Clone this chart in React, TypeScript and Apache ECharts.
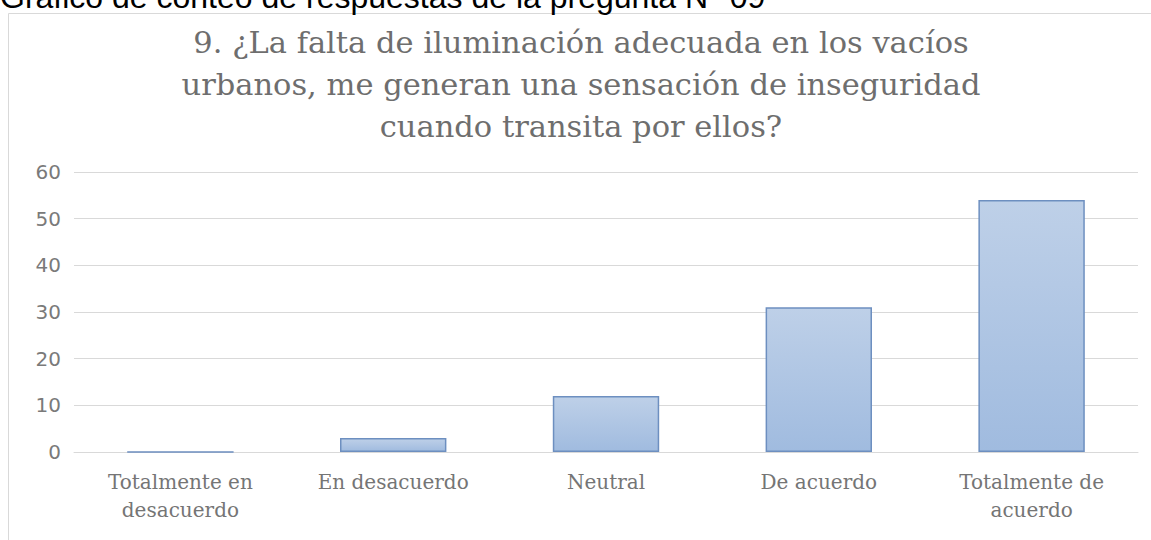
import React, { useEffect, useRef } from "react";
import * as echarts from "echarts";

const categories = [
  "Totalmente en\ndesacuerdo",
  "En desacuerdo",
  "Neutral",
  "De acuerdo",
  "Totalmente de\nacuerdo",
];
const counts = [0, 3, 12, 31, 54];
const yTicks = { min: 0, max: 60, interval: 10 };
const titleText =
  "9. ¿La falta de iluminación adecuada en los vacíos\nurbanos, me generan una sensación de inseguridad\ncuando transita por ellos?";
const captionText = "Gráfico de conteo de respuestas de la pregunta N° 09";

export default function App() {
  const ref = useRef<HTMLDivElement>(null);
  useEffect(() => {
    if (!ref.current) return;
    const chart = echarts.init(ref.current, null, { renderer: "svg" });
    chart.setOption({
      animation: false,
      backgroundColor: "#ffffff",
      title: {
        text: titleText,
        left: 576,
        top: 16,
        textAlign: "center",
        textStyle: {
          fontFamily: "DejaVu Serif",
          fontSize: 30.5,
          fontWeight: "normal",
          color: "#6e6e6e",
          lineHeight: 42,
        },
      },
      graphic: [
        {
          type: "rect",
          shape: { x: 8.5, y: 13.5, width: 1300, height: 700 },
          style: { fill: "none", stroke: "#d9d9d9", lineWidth: 1 },
          silent: true,
          z: -10,
        },
        {
          type: "text",
          x: 0,
          y: -3,
          style: {
            text: captionText,
            font: "32px 'Liberation Sans'",
            fill: "#000000",
            verticalAlign: "middle",
            align: "left",
          },
        },
      ],
      grid: { left: 74, right: 13, top: 172, bottom: 88, containLabel: false },
      xAxis: {
        type: "category",
        data: categories,
        axisLine: { show: true, lineStyle: { color: "#d9d9d9", width: 1 } },
        axisTick: { show: false },
        axisLabel: {
          margin: 16,
          fontFamily: "DejaVu Serif",
          fontSize: 20,
          color: "#757575",
          lineHeight: 28,
          interval: 0,
        },
      },
      yAxis: {
        type: "value",
        min: yTicks.min,
        max: yTicks.max,
        interval: yTicks.interval,
        axisLine: { show: false },
        axisTick: { show: false },
        splitLine: { lineStyle: { color: "#d9d9d9", width: 1 } },
        axisLabel: {
          margin: 13,
          fontFamily: "DejaVu Sans",
          fontSize: 20,
          color: "#7a7a7a",
        },
      },
      series: [
        {
          type: "bar",
          data: counts,
          barCategoryGap: "50%",
          itemStyle: {
            color: new echarts.graphic.LinearGradient(0, 0, 0, 1, [
              { offset: 0, color: "#bed0e8" },
              { offset: 1, color: "#a0bbdf" },
            ]),
            borderColor: "#6d8fc0",
            borderWidth: 1.5,
          },
        },
      ],
    });
    return () => chart.dispose();
  }, []);
  return (
    <div
      ref={ref}
      style={{ position: "absolute", left: 0, top: 0, width: 1151, height: 540 }}
    />
  );
}
